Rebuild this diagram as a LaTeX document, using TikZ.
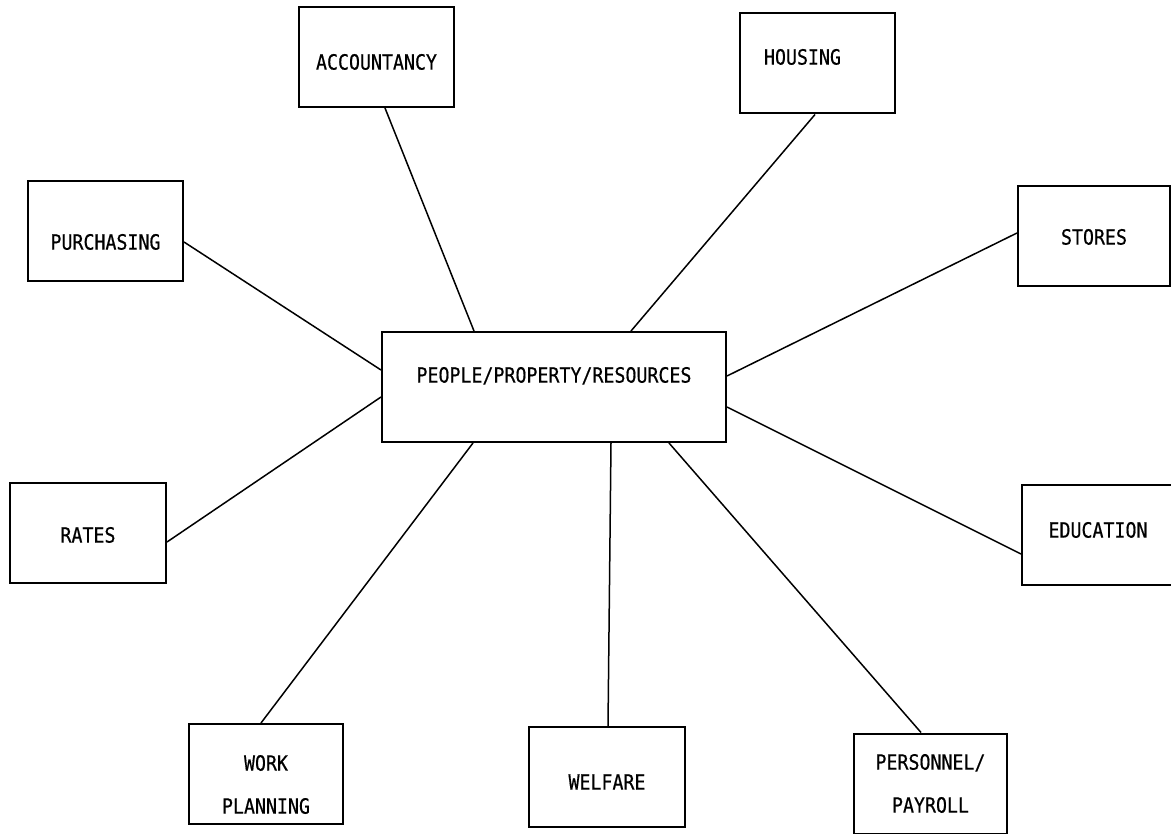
\documentclass[tikz,border=0pt]{standalone}
\usepackage{fontspec}
\newfontfamily\deptfont[FakeStretch=0.87,FakeBold=0.5]{DejaVu Sans Mono}
\tikzset{
  dept/.style={shape=rectangle,draw=black,line width=2pt,minimum width=155pt,minimum height=100pt,
    align=center,font=\deptfont\fontsize{21pt}{43pt}\selectfont},
  link/.style={draw=black,line width=1.5pt}
}
\begin{document}
\begin{tikzpicture}[x=1pt,y=-1pt]
              \useasboundingbox (0,0) rectangle (1171,834);
              \node[dept,minimum width=344pt,minimum height=110pt,text height=15.6pt,text depth=24.4pt] (ppr) at (554,387) {PEOPLE/PROPERTY/RESOURCES};
              \node[dept,text height=32.6pt,text depth=7.4pt] (acc) at (376.5,57) {ACCOUNTANCY};
              \node[dept,text height=21.1pt,text depth=18.9pt] (hou) at (817.5,63.5) {HOUSING\hspace*{30pt}};
              \node[dept,text height=38.6pt,text depth=1.4pt] (pur) at (105.5,231) {PURCHASING};
              \node[dept,minimum width=152pt,text height=28.6pt,text depth=11.4pt] (sto) at (1094,236) {STORES};
              \node[dept,minimum width=156pt,text height=30.1pt,text depth=9.9pt] (rat) at (88,532.5) {RATES};
              \node[dept,minimum width=152pt,text height=22.6pt,text depth=17.4pt] (edu) at (1098,535) {EDUCATION};
              \node[dept,minimum width=154pt,text height=80pt,text depth=0.7pt] (wrk) at (266,774) {WORK\\PLANNING};
              \node[dept,minimum width=156pt,text height=32.6pt,text depth=7.4pt] (wel) at (607,777) {WELFARE};
              \node[dept,minimum width=153pt] (per) at (930.5,783.5) {PERSONNEL/\\PAYROLL};

              \path[link] ([xshift=8.5pt]acc.south) edge ([xshift=-80pt]ppr.north);
              \path[link] ([xshift=-2.5pt]hou.south) edge ([xshift=77pt]ppr.north);
              \path[link] ([yshift=-11pt]pur.east) edge ([yshift=17pt]ppr.west);
              \path[link] ([yshift=3pt]sto.west) edge ([yshift=11pt]ppr.east);
              \path[link] ([yshift=-9.5pt]rat.east) edge ([yshift=-10pt]ppr.west);
              \path[link] ([yshift=-19pt]edu.west) edge ([yshift=-20pt]ppr.east);
              \path[link] ([xshift=-5pt]wrk.north) edge ([xshift=-81pt]ppr.south);
              \path[link] ([xshift=1pt]wel.north) edge ([xshift=57pt]ppr.south);
              \path[link] ([xshift=-9.5pt]per.north) edge ([xshift=115pt]ppr.south);
          \end{tikzpicture}
\end{document}
